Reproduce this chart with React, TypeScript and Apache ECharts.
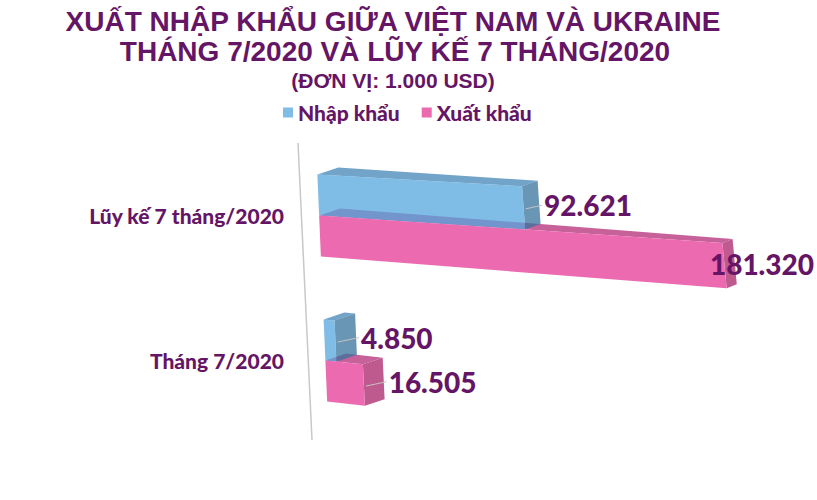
import React, { useEffect, useRef } from 'react';
import * as echarts from 'echarts';

const categories = ['Lũy kế 7 tháng/2020', 'Tháng 7/2020'];
const seriesNames = ['Nhập khẩu', 'Xuất khẩu'];
const importValues = [92621, 4850];
const exportValues = [181320, 16505];

const TITLE_LINES = ['XUẤT NHẬP KHẨU GIỮA VIỆT NAM VÀ UKRAINE', 'THÁNG 7/2020 VÀ LŨY KẾ 7 THÁNG/2020'];
const SUBTITLE = '(ĐƠN VỊ: 1.000 USD)';

const PURPLE = '#651565';
const GRID = { left: 316, top: 143, width: 440, height: 290 };
const QUAD = { tl: [316, 143], tr: [756, 165], bl: [328.5, 433], br: [788, 488] };

const COLORS: any = {
  imp: { legend: '#80BDE6', front: '#56A7DE', top: '#4384B6', side: '#38739C', opacity: 0.75 },
  exp: { legend: '#EC6AB0', front: '#EC6AB0', top: '#C6619A', side: '#BE5A8E', opacity: 1 },
};

function warp(fx: number, fy: number) {
  const u = (fx - GRID.left) / GRID.width;
  const w = (fy - GRID.top) / GRID.height;
  const a = (1 - u) * (1 - w), b = u * (1 - w), c = (1 - u) * w, d = u * w;
  return [
    QUAD.tl[0] * a + QUAD.tr[0] * b + QUAD.bl[0] * c + QUAD.br[0] * d,
    QUAD.tl[1] * a + QUAD.tr[1] * b + QUAD.bl[1] * c + QUAD.br[1] * d,
  ];
}

function depth(p: number[]) {
  const t = (p[0] - 317) / 411;
  return [p[0] + 21 - 11 * t, p[1] - 7 + 3 * t];
}

function fmt(v: number) {
  return String(Math.round(v)).replace(/\B(?=(\d{3})+(?!\d))/g, '.');
}

let measureCtx: any = null;
function textWidth(text: string, font: string) {
  if (!measureCtx) measureCtx = document.createElement('canvas').getContext('2d');
  measureCtx.font = font;
  return measureCtx.measureText(text).width;
}

const LABEL_FONT_FAMILY = 'Lato';
const LABEL_SIZE = 28;
const HEAVY = 900;

function makeRender(kind: 'imp' | 'exp') {
  return (params: any, api: any) => {
    const v = api.value(0);
    const ci = api.value(1);
    const p0 = api.coord([0, ci]);
    const p1 = api.coord([v, ci]);
    const band = api.size([0, 1])[1];
    const h = band * 0.283;
    const top = kind === 'imp' ? p0[1] - h : p0[1];
    const bot = top + h;
    const ftl = warp(p0[0], top);
    const ftr = warp(p1[0], top);
    const fbr = warp(p1[0], bot);
    const fbl = warp(p0[0], bot);
    const btl = depth(ftl);
    const btr = depth(ftr);
    const bbr = depth(fbr);
    const c = COLORS[kind];
    const zTop = kind === 'imp' ? 2 : 1;
    const zBody = kind === 'imp' ? 2 : 3;
    const poly = (pts: number[][], fill: string, z2: number) => ({
      type: 'polygon',
      shape: { points: pts },
      style: { fill, opacity: c.opacity, stroke: null },
      z2,
      silent: true,
    });
    const txt = fmt(v);
    const font = `${HEAVY} ${LABEL_SIZE}px ${LABEL_FONT_FAMILY}`;
    const tw = textWidth(txt, font);
    const midF = [(ftr[0] + fbr[0]) / 2, (ftr[1] + fbr[1]) / 2];
    const midB = [(btr[0] + bbr[0]) / 2, (btr[1] + bbr[1]) / 2];
    let lx = midB[0] + 5;
    const maxX = api.getWidth() - 3 - tw;
    if (lx > maxX) lx = maxX;
    const ly = (midF[1] + midB[1]) / 2;
    const children: any[] = [
      poly([ftl, ftr, btr, btl], c.top, zTop),
      poly([ftr, btr, bbr, fbr], c.side, zBody),
      poly([ftl, ftr, fbr, fbl], c.front, zBody),
    ];
    if (lx > midF[0] + 8) {
      children.push({
        type: 'line',
        shape: { x1: midF[0] + 2, y1: midF[1] + 1, x2: lx - 2, y2: ly },
        style: { stroke: '#c4c4c4', lineWidth: 1 },
        z2: 9,
        silent: true,
      });
    }
    children.push({
      type: 'text',
      x: lx,
      y: ly,
      style: {
        text: txt,
        fill: PURPLE,
        fontSize: LABEL_SIZE,
        fontWeight: HEAVY,
        fontFamily: LABEL_FONT_FAMILY,
        align: 'left',
        verticalAlign: 'middle',
      },
      z2: 10,
      silent: true,
    });
    return { type: 'group', children };
  };
}

export default function App() {
  const ref = useRef<HTMLDivElement>(null);
  useEffect(() => {
    if (!ref.current) return;
    const chart = echarts.init(ref.current, null, { renderer: 'svg' });
    const option: any = {
      animation: false,
      backgroundColor: '#ffffff',
      legend: {
        left: 278,
        top: 97,
        icon: 'rect',
        itemWidth: 10,
        itemHeight: 10,
        itemGap: 22,
        textStyle: { color: PURPLE, fontSize: 21, fontWeight: HEAVY, fontFamily: 'Lato' },
        data: [
          { name: seriesNames[0], itemStyle: { color: COLORS.imp.legend } },
          { name: seriesNames[1], itemStyle: { color: COLORS.exp.legend } },
        ],
      },
      grid: { left: GRID.left, top: GRID.top, width: GRID.width, height: GRID.height },
      xAxis: { type: 'value', min: 0, max: 200000, show: false },
      yAxis: {
        type: 'category',
        data: categories,
        inverse: true,
        axisLine: { show: false },
        axisTick: { show: false },
        splitLine: { show: false },
        axisLabel: {
          margin: 32,
          color: PURPLE,
          fontSize: 21,
          fontWeight: HEAVY,
          fontFamily: 'Lato',
          padding: [13, 0, 0, 0],
        },
      },
      graphic: [
        {
          type: 'text', x: 393, y: 21, silent: true,
          style: { text: TITLE_LINES[0], fill: PURPLE, fontSize: 28, fontWeight: 'bold', fontFamily: 'Liberation Sans', align: 'center', verticalAlign: 'middle' },
        },
        {
          type: 'text', x: 395, y: 51, silent: true,
          style: { text: TITLE_LINES[1], fill: PURPLE, fontSize: 28, fontWeight: 'bold', fontFamily: 'Liberation Sans', align: 'center', verticalAlign: 'middle' },
        },
        {
          type: 'text', x: 393, y: 80, silent: true,
          style: { text: SUBTITLE, fill: PURPLE, fontSize: 21, fontWeight: 'bold', fontFamily: 'Liberation Sans', align: 'center', verticalAlign: 'middle' },
        },
        {
          type: 'line', silent: true,
          shape: { x1: 298, y1: 143, x2: 312, y2: 440 },
          style: { stroke: '#c8c8c8', lineWidth: 1.5 },
        },
      ],
      series: [
        {
          type: 'custom',
          name: seriesNames[0],
          itemStyle: { color: COLORS.imp.legend },
          renderItem: makeRender('imp'),
          encode: { x: 0, y: 1 },
          data: importValues.map((v, i) => [v, i]),
          clip: false,
        },
        {
          type: 'custom',
          name: seriesNames[1],
          itemStyle: { color: COLORS.exp.legend },
          renderItem: makeRender('exp'),
          encode: { x: 0, y: 1 },
          data: exportValues.map((v, i) => [v, i]),
          clip: false,
        },
      ],
    };
    chart.setOption(option);
    return () => chart.dispose();
  }, []);
  return <div ref={ref} style={{ position: 'fixed', left: 0, top: 0, width: 817, height: 500 }} />;
}
